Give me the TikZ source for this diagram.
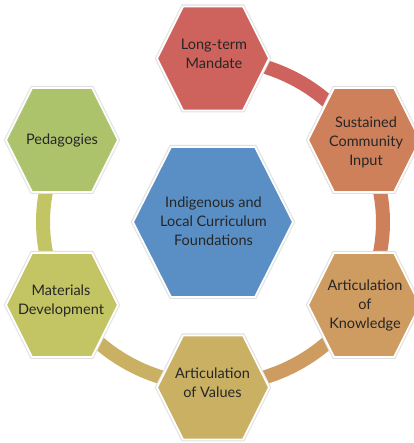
\documentclass[tikz,border=0pt]{standalone}
\usepackage{fontspec}
\setmainfont{Lato}
\usetikzlibrary{calc,backgrounds}
\definecolor{cLT}{HTML}{CD635C}
\definecolor{cSCI}{HTML}{CE805B}
\definecolor{cAK}{HTML}{CE9B61}
\definecolor{cAV}{HTML}{C9B062}
\definecolor{cMD}{HTML}{C3C464}
\definecolor{cPED}{HTML}{ADC36B}
\definecolor{cCORE}{HTML}{5A8FC5}
\definecolor{txtcol}{HTML}{262626}
\tikzset{
  hexhalo/.style={draw=black!12, line width=4pt, line join=miter},
  hexbody/.style={draw=white, line width=1.8pt, line join=miter},
  hexlabel/.style={align=center, text=txtcol, inner sep=0pt,
    font=\fontsize{14.5}{19}\selectfont},
  ringarc/.style={line width=14pt, line cap=butt}
}
% #1 name, #2 position, #3 half width, #4 half height, #5 half top edge, #6 colour
\newcommand{\hexagonshape}[6]{%
  \coordinate (#1) at (#2);
  \begin{scope}[shift={(#1)}]
    \draw[hexhalo] (-#3,0) -- (-#5,#4) -- (#5,#4) -- (#3,0) -- (#5,-#4) -- (-#5,-#4) -- cycle;
    \filldraw[hexbody, fill=#6] (-#3,0) -- (-#5,#4) -- (#5,#4) -- (#3,0) -- (#5,-#4) -- (-#5,-#4) -- cycle;
  \end{scope}}
\begin{document}
\begin{tikzpicture}[x=1pt,y=1pt]
\useasboundingbox (0,0) rectangle (413,443);
% hexagons
\hexagonshape{lt}{213,384.5}{56}{52}{30}{cLT}
\hexagonshape{sci}{364,303}{56}{52}{30}{cSCI}
\hexagonshape{ak}{364,138}{56}{52}{30}{cAK}
\hexagonshape{av}{213,55.5}{56}{52}{30}{cAV}
\hexagonshape{md}{62,138}{56}{52}{30}{cMD}
\hexagonshape{ped}{62,303}{56}{52}{30}{cPED}
\hexagonshape{core}{213,221}{80}{75}{42}{cCORE}
% labels
\node[hexlabel] (ltT) at (214,389) {Long-term\\Mandate};
\node[hexlabel] (sciT) at (366,301) {Sustained\\Community\\Input};
\node[hexlabel] (akT) at (365,138) {Articulation\\of\\Knowledge};
\node[hexlabel] (avT) at (212.5,60.5) {Articulation\\of Values};
\node[hexlabel] (mdT) at (61,142.5) {Materials\\Development};
\node[hexlabel] (pedT) at (62,303) {Pedagogies};
\node[hexlabel] (coreT) at (213.5,222) {Indigenous and\\Local Curriculum\\Foundations};
% ring arcs
\coordinate (C) at (213,221);
\path (C) ++(90:170 and 163) coordinate (e1);
\path (C) ++(30:170 and 163) coordinate (e2);
\path (C) ++(-30:170 and 163) coordinate (e3);
\path (C) ++(-90:170 and 163) coordinate (e4);
\path (C) ++(-150:170 and 163) coordinate (e5);
\begin{scope}[on background layer]
  \fill[white] (0,0) rectangle (413,443);
  \draw[ringarc, cLT] (e1) arc[start angle=90, end angle=30, x radius=170, y radius=163];
  \draw[ringarc, cSCI] (e2) arc[start angle=30, end angle=-30, x radius=170, y radius=163];
  \draw[ringarc, cAK] (e3) arc[start angle=-30, end angle=-90, x radius=170, y radius=163];
  \draw[ringarc, cAV] (e4) arc[start angle=-90, end angle=-150, x radius=170, y radius=163];
  \draw[ringarc, cMD] (e5) arc[start angle=-150, end angle=-210, x radius=170, y radius=163];
\end{scope}
\end{tikzpicture}
\end{document}
